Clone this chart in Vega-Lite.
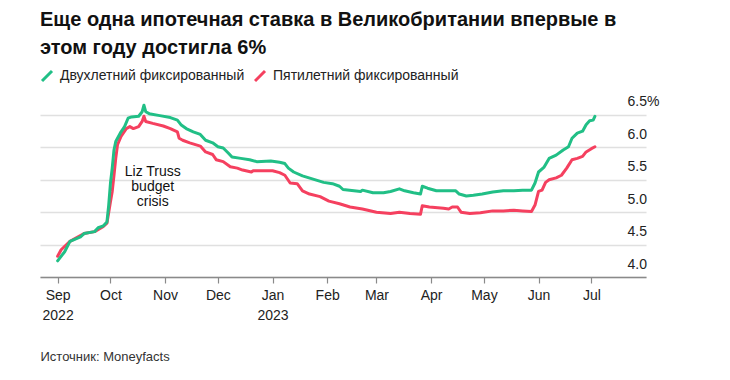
{
  "$schema": "https://vega.github.io/schema/vega-lite/v6.json",
  "width": 606,
  "height": 175,
  "autosize": {"type": "none"},
  "padding": {"left": 40, "top": 102, "right": 84, "bottom": 103},
  "background": "white",
  "title": {
    "text": ["Еще одна ипотечная ставка в Великобритании впервые в", "этом году достигла 6%"],
    "anchor": "start",
    "font": "Liberation Sans",
    "fontSize": 20,
    "fontWeight": "bold",
    "color": "#111111",
    "lineHeight": 28,
    "offset": 11
  },
  "config": {
    "view": {"stroke": null},
    "font": "Liberation Sans"
  },
  "datasets": {
    "rates": [
      {"date": "2022-09-01", "series": "Пятилетний фиксированный", "rate": 4.32},
      {"date": "2022-09-03", "series": "Пятилетний фиксированный", "rate": 4.42},
      {"date": "2022-09-08", "series": "Пятилетний фиксированный", "rate": 4.55},
      {"date": "2022-09-16", "series": "Пятилетний фиксированный", "rate": 4.67},
      {"date": "2022-09-22", "series": "Пятилетний фиксированный", "rate": 4.70},
      {"date": "2022-09-27", "series": "Пятилетний фиксированный", "rate": 4.78},
      {"date": "2022-09-29", "series": "Пятилетний фиксированный", "rate": 4.83},
      {"date": "2022-10-01", "series": "Пятилетний фиксированный", "rate": 5.16},
      {"date": "2022-10-02", "series": "Пятилетний фиксированный", "rate": 5.32},
      {"date": "2022-10-03", "series": "Пятилетний фиксированный", "rate": 5.57},
      {"date": "2022-10-04", "series": "Пятилетний фиксированный", "rate": 5.83},
      {"date": "2022-10-05", "series": "Пятилетний фиксированный", "rate": 6.04},
      {"date": "2022-10-07", "series": "Пятилетний фиксированный", "rate": 6.17},
      {"date": "2022-10-10", "series": "Пятилетний фиксированный", "rate": 6.29},
      {"date": "2022-10-12", "series": "Пятилетний фиксированный", "rate": 6.32},
      {"date": "2022-10-14", "series": "Пятилетний фиксированный", "rate": 6.29},
      {"date": "2022-10-17", "series": "Пятилетний фиксированный", "rate": 6.32},
      {"date": "2022-10-19", "series": "Пятилетний фиксированный", "rate": 6.40},
      {"date": "2022-10-20", "series": "Пятилетний фиксированный", "rate": 6.48},
      {"date": "2022-10-21", "series": "Пятилетний фиксированный", "rate": 6.40},
      {"date": "2022-10-25", "series": "Пятилетний фиксированный", "rate": 6.37},
      {"date": "2022-10-31", "series": "Пятилетний фиксированный", "rate": 6.33},
      {"date": "2022-11-04", "series": "Пятилетний фиксированный", "rate": 6.29},
      {"date": "2022-11-08", "series": "Пятилетний фиксированный", "rate": 6.24},
      {"date": "2022-11-09", "series": "Пятилетний фиксированный", "rate": 6.14},
      {"date": "2022-11-11", "series": "Пятилетний фиксированный", "rate": 6.11},
      {"date": "2022-11-15", "series": "Пятилетний фиксированный", "rate": 6.07},
      {"date": "2022-11-21", "series": "Пятилетний фиксированный", "rate": 6.02},
      {"date": "2022-11-24", "series": "Пятилетний фиксированный", "rate": 5.93},
      {"date": "2022-11-28", "series": "Пятилетний фиксированный", "rate": 5.89},
      {"date": "2022-11-30", "series": "Пятилетний фиксированный", "rate": 5.81},
      {"date": "2022-12-04", "series": "Пятилетний фиксированный", "rate": 5.78},
      {"date": "2022-12-08", "series": "Пятилетний фиксированный", "rate": 5.70},
      {"date": "2022-12-12", "series": "Пятилетний фиксированный", "rate": 5.68},
      {"date": "2022-12-15", "series": "Пятилетний фиксированный", "rate": 5.65},
      {"date": "2022-12-20", "series": "Пятилетний фиксированный", "rate": 5.62},
      {"date": "2022-12-21", "series": "Пятилетний фиксированный", "rate": 5.64},
      {"date": "2023-01-01", "series": "Пятилетний фиксированный", "rate": 5.64},
      {"date": "2023-01-05", "series": "Пятилетний фиксированный", "rate": 5.61},
      {"date": "2023-01-08", "series": "Пятилетний фиксированный", "rate": 5.57},
      {"date": "2023-01-11", "series": "Пятилетний фиксированный", "rate": 5.45},
      {"date": "2023-01-15", "series": "Пятилетний фиксированный", "rate": 5.44},
      {"date": "2023-01-18", "series": "Пятилетний фиксированный", "rate": 5.33},
      {"date": "2023-01-22", "series": "Пятилетний фиксированный", "rate": 5.28},
      {"date": "2023-01-28", "series": "Пятилетний фиксированный", "rate": 5.24},
      {"date": "2023-02-02", "series": "Пятилетний фиксированный", "rate": 5.17},
      {"date": "2023-02-08", "series": "Пятилетний фиксированный", "rate": 5.13},
      {"date": "2023-02-14", "series": "Пятилетний фиксированный", "rate": 5.08},
      {"date": "2023-02-21", "series": "Пятилетний фиксированный", "rate": 5.05},
      {"date": "2023-03-01", "series": "Пятилетний фиксированный", "rate": 5.00},
      {"date": "2023-03-09", "series": "Пятилетний фиксированный", "rate": 4.98},
      {"date": "2023-03-14", "series": "Пятилетний фиксированный", "rate": 5.00},
      {"date": "2023-03-20", "series": "Пятилетний фиксированный", "rate": 4.98},
      {"date": "2023-03-26", "series": "Пятилетний фиксированный", "rate": 4.97},
      {"date": "2023-03-27", "series": "Пятилетний фиксированный", "rate": 5.10},
      {"date": "2023-03-31", "series": "Пятилетний фиксированный", "rate": 5.08},
      {"date": "2023-04-08", "series": "Пятилетний фиксированный", "rate": 5.06},
      {"date": "2023-04-11", "series": "Пятилетний фиксированный", "rate": 5.05},
      {"date": "2023-04-13", "series": "Пятилетний фиксированный", "rate": 5.08},
      {"date": "2023-04-16", "series": "Пятилетний фиксированный", "rate": 5.08},
      {"date": "2023-04-18", "series": "Пятилетний фиксированный", "rate": 5.00},
      {"date": "2023-04-23", "series": "Пятилетний фиксированный", "rate": 4.98},
      {"date": "2023-04-29", "series": "Пятилетний фиксированный", "rate": 4.99},
      {"date": "2023-05-06", "series": "Пятилетний фиксированный", "rate": 5.02},
      {"date": "2023-05-12", "series": "Пятилетний фиксированный", "rate": 5.02},
      {"date": "2023-05-18", "series": "Пятилетний фиксированный", "rate": 5.03},
      {"date": "2023-05-23", "series": "Пятилетний фиксированный", "rate": 5.02},
      {"date": "2023-05-28", "series": "Пятилетний фиксированный", "rate": 5.01},
      {"date": "2023-05-30", "series": "Пятилетний фиксированный", "rate": 5.11},
      {"date": "2023-06-01", "series": "Пятилетний фиксированный", "rate": 5.32},
      {"date": "2023-06-03", "series": "Пятилетний фиксированный", "rate": 5.34},
      {"date": "2023-06-05", "series": "Пятилетний фиксированный", "rate": 5.46},
      {"date": "2023-06-07", "series": "Пятилетний фиксированный", "rate": 5.50},
      {"date": "2023-06-11", "series": "Пятилетний фиксированный", "rate": 5.53},
      {"date": "2023-06-14", "series": "Пятилетний фиксированный", "rate": 5.57},
      {"date": "2023-06-17", "series": "Пятилетний фиксированный", "rate": 5.68},
      {"date": "2023-06-20", "series": "Пятилетний фиксированный", "rate": 5.81},
      {"date": "2023-06-23", "series": "Пятилетний фиксированный", "rate": 5.83},
      {"date": "2023-06-26", "series": "Пятилетний фиксированный", "rate": 5.86},
      {"date": "2023-06-28", "series": "Пятилетний фиксированный", "rate": 5.93},
      {"date": "2023-07-01", "series": "Пятилетний фиксированный", "rate": 5.98},
      {"date": "2023-07-03", "series": "Пятилетний фиксированный", "rate": 6.01},
      {"date": "2022-09-01", "series": "Двухлетний фиксированный", "rate": 4.25},
      {"date": "2022-09-05", "series": "Двухлетний фиксированный", "rate": 4.39},
      {"date": "2022-09-08", "series": "Двухлетний фиксированный", "rate": 4.55},
      {"date": "2022-09-14", "series": "Двухлетний фиксированный", "rate": 4.62},
      {"date": "2022-09-16", "series": "Двухлетний фиксированный", "rate": 4.67},
      {"date": "2022-09-22", "series": "Двухлетний фиксированный", "rate": 4.70},
      {"date": "2022-09-24", "series": "Двухлетний фиксированный", "rate": 4.76},
      {"date": "2022-09-27", "series": "Двухлетний фиксированный", "rate": 4.79},
      {"date": "2022-09-29", "series": "Двухлетний фиксированный", "rate": 4.85},
      {"date": "2022-09-30", "series": "Двухлетний фиксированный", "rate": 5.11},
      {"date": "2022-10-01", "series": "Двухлетний фиксированный", "rate": 5.45},
      {"date": "2022-10-02", "series": "Двухлетний фиксированный", "rate": 5.68},
      {"date": "2022-10-03", "series": "Двухлетний фиксированный", "rate": 5.96},
      {"date": "2022-10-04", "series": "Двухлетний фиксированный", "rate": 6.09},
      {"date": "2022-10-07", "series": "Двухлетний фиксированный", "rate": 6.24},
      {"date": "2022-10-09", "series": "Двухлетний фиксированный", "rate": 6.32},
      {"date": "2022-10-11", "series": "Двухлетний фиксированный", "rate": 6.45},
      {"date": "2022-10-13", "series": "Двухлетний фиксированный", "rate": 6.47},
      {"date": "2022-10-17", "series": "Двухлетний фиксированный", "rate": 6.48},
      {"date": "2022-10-19", "series": "Двухлетний фиксированный", "rate": 6.55},
      {"date": "2022-10-20", "series": "Двухлетний фиксированный", "rate": 6.65},
      {"date": "2022-10-21", "series": "Двухлетний фиксированный", "rate": 6.55},
      {"date": "2022-10-23", "series": "Двухлетний фиксированный", "rate": 6.52},
      {"date": "2022-10-29", "series": "Двухлетний фиксированный", "rate": 6.49},
      {"date": "2022-11-04", "series": "Двухлетний фиксированный", "rate": 6.46},
      {"date": "2022-11-08", "series": "Двухлетний фиксированный", "rate": 6.42},
      {"date": "2022-11-10", "series": "Двухлетний фиксированный", "rate": 6.35},
      {"date": "2022-11-13", "series": "Двухлетний фиксированный", "rate": 6.29},
      {"date": "2022-11-17", "series": "Двухлетний фиксированный", "rate": 6.24},
      {"date": "2022-11-21", "series": "Двухлетний фиксированный", "rate": 6.20},
      {"date": "2022-11-24", "series": "Двухлетний фиксированный", "rate": 6.11},
      {"date": "2022-11-28", "series": "Двухлетний фиксированный", "rate": 6.07},
      {"date": "2022-12-01", "series": "Двухлетний фиксированный", "rate": 6.01},
      {"date": "2022-12-04", "series": "Двухлетний фиксированный", "rate": 5.99},
      {"date": "2022-12-07", "series": "Двухлетний фиксированный", "rate": 5.91},
      {"date": "2022-12-09", "series": "Двухлетний фиксированный", "rate": 5.85},
      {"date": "2022-12-14", "series": "Двухлетний фиксированный", "rate": 5.83},
      {"date": "2022-12-19", "series": "Двухлетний фиксированный", "rate": 5.81},
      {"date": "2022-12-23", "series": "Двухлетний фиксированный", "rate": 5.78},
      {"date": "2022-12-31", "series": "Двухлетний фиксированный", "rate": 5.79},
      {"date": "2023-01-05", "series": "Двухлетний фиксированный", "rate": 5.77},
      {"date": "2023-01-08", "series": "Двухлетний фиксированный", "rate": 5.75},
      {"date": "2023-01-10", "series": "Двухлетний фиксированный", "rate": 5.68},
      {"date": "2023-01-13", "series": "Двухлетний фиксированный", "rate": 5.62},
      {"date": "2023-01-18", "series": "Двухлетний фиксированный", "rate": 5.56},
      {"date": "2023-01-24", "series": "Двухлетний фиксированный", "rate": 5.51},
      {"date": "2023-01-30", "series": "Двухлетний фиксированный", "rate": 5.46},
      {"date": "2023-02-04", "series": "Двухлетний фиксированный", "rate": 5.44},
      {"date": "2023-02-08", "series": "Двухлетний фиксированный", "rate": 5.40},
      {"date": "2023-02-10", "series": "Двухлетний фиксированный", "rate": 5.35},
      {"date": "2023-02-20", "series": "Двухлетний фиксированный", "rate": 5.32},
      {"date": "2023-02-21", "series": "Двухлетний фиксированный", "rate": 5.34},
      {"date": "2023-02-27", "series": "Двухлетний фиксированный", "rate": 5.30},
      {"date": "2023-03-05", "series": "Двухлетний фиксированный", "rate": 5.30},
      {"date": "2023-03-09", "series": "Двухлетний фиксированный", "rate": 5.32},
      {"date": "2023-03-14", "series": "Двухлетний фиксированный", "rate": 5.36},
      {"date": "2023-03-17", "series": "Двухлетний фиксированный", "rate": 5.33},
      {"date": "2023-03-22", "series": "Двухлетний фиксированный", "rate": 5.30},
      {"date": "2023-03-26", "series": "Двухлетний фиксированный", "rate": 5.28},
      {"date": "2023-03-27", "series": "Двухлетний фиксированный", "rate": 5.40},
      {"date": "2023-03-30", "series": "Двухлетний фиксированный", "rate": 5.37},
      {"date": "2023-04-04", "series": "Двухлетний фиксированный", "rate": 5.33},
      {"date": "2023-04-10", "series": "Двухлетний фиксированный", "rate": 5.33},
      {"date": "2023-04-15", "series": "Двухлетний фиксированный", "rate": 5.33},
      {"date": "2023-04-17", "series": "Двухлетний фиксированный", "rate": 5.28},
      {"date": "2023-04-21", "series": "Двухлетний фиксированный", "rate": 5.25},
      {"date": "2023-04-25", "series": "Двухлетний фиксированный", "rate": 5.26},
      {"date": "2023-04-30", "series": "Двухлетний фиксированный", "rate": 5.28},
      {"date": "2023-05-06", "series": "Двухлетний фиксированный", "rate": 5.31},
      {"date": "2023-05-12", "series": "Двухлетний фиксированный", "rate": 5.33},
      {"date": "2023-05-18", "series": "Двухлетний фиксированный", "rate": 5.33},
      {"date": "2023-05-23", "series": "Двухлетний фиксированный", "rate": 5.34},
      {"date": "2023-05-28", "series": "Двухлетний фиксированный", "rate": 5.34},
      {"date": "2023-05-30", "series": "Двухлетний фиксированный", "rate": 5.45},
      {"date": "2023-06-01", "series": "Двухлетний фиксированный", "rate": 5.62},
      {"date": "2023-06-04", "series": "Двухлетний фиксированный", "rate": 5.69},
      {"date": "2023-06-07", "series": "Двухлетний фиксированный", "rate": 5.83},
      {"date": "2023-06-11", "series": "Двухлетний фиксированный", "rate": 5.88},
      {"date": "2023-06-15", "series": "Двухлетний фиксированный", "rate": 5.96},
      {"date": "2023-06-18", "series": "Двухлетний фиксированный", "rate": 6.01},
      {"date": "2023-06-20", "series": "Двухлетний фиксированный", "rate": 6.14},
      {"date": "2023-06-23", "series": "Двухлетний фиксированный", "rate": 6.22},
      {"date": "2023-06-26", "series": "Двухлетний фиксированный", "rate": 6.25},
      {"date": "2023-06-28", "series": "Двухлетний фиксированный", "rate": 6.35},
      {"date": "2023-06-30", "series": "Двухлетний фиксированный", "rate": 6.41},
      {"date": "2023-07-02", "series": "Двухлетний фиксированный", "rate": 6.42},
      {"date": "2023-07-03", "series": "Двухлетний фиксированный", "rate": 6.48}
    ],
    "notes": [
      {"date": "2022-10-25", "rate": 5.625, "note": "Liz Truss\nbudget\ncrisis"}
    ]
  },
  "encoding": {
    "x": {
      "field": "date",
      "type": "temporal",
      "scale": {
        "type": "utc",
        "domain": [
          {"year": 2022, "month": 8, "date": 22, "utc": true},
          {"year": 2023, "month": 8, "date": 1, "utc": true}
        ]
      },
      "axis": {
        "values": [
          {"year": 2022, "month": 9, "date": 1, "utc": true},
          {"year": 2022, "month": 10, "date": 1, "utc": true},
          {"year": 2022, "month": 11, "date": 1, "utc": true},
          {"year": 2022, "month": 12, "date": 1, "utc": true},
          {"year": 2023, "month": 1, "date": 1, "utc": true},
          {"year": 2023, "month": 2, "date": 1, "utc": true},
          {"year": 2023, "month": 3, "date": 1, "utc": true},
          {"year": 2023, "month": 4, "date": 1, "utc": true},
          {"year": 2023, "month": 5, "date": 1, "utc": true},
          {"year": 2023, "month": 6, "date": 1, "utc": true},
          {"year": 2023, "month": 7, "date": 1, "utc": true}
        ],
        "labelExpr": "[utcFormat(datum.value, '%b'), (utcmonth(datum.value) == 0 || (utcmonth(datum.value) == 8 && utcyear(datum.value) == 2022)) ? utcFormat(datum.value, '%Y') : '']",
        "grid": false,
        "domainColor": "#8a8a8a",
        "domainWidth": 1.5,
        "tickColor": "#8a8a8a",
        "tickSize": 6,
        "tickWidth": 1.2,
        "labelFont": "Liberation Sans",
        "labelFontSize": 14,
        "labelColor": "#222222",
        "labelPadding": 5,
        "labelLineHeight": 20,
        "labelFlush": false,
        "labelOverlap": false,
        "title": "Источник: Moneyfacts",
        "titleFont": "Liberation Sans",
        "titleFontSize": 13,
        "titleFontWeight": "normal",
        "titleColor": "#333333",
        "titleAnchor": "start",
        "titleAlign": "left",
        "titleBaseline": "middle",
        "titleX": 0,
        "titleY": 79
      }
    },
    "y": {
      "field": "rate",
      "type": "quantitative",
      "scale": {"domain": [4.0, 6.7], "zero": false, "nice": false},
      "axis": {
        "orient": "right",
        "values": [4.0, 4.5, 5.0, 5.5, 6.0, 6.5],
        "labelExpr": "datum.value == 6.5 ? '6.5%' : format(datum.value, '.1f')",
        "labelOverlap": false,
        "labelFlush": false,
        "domain": false,
        "ticks": false,
        "tickSize": 0,
        "grid": true,
        "gridColor": "#e0e0e0",
        "gridWidth": 1.5,
        "labelAlign": "left",
        "labelBaseline": "middle",
        "labelPadding": -19,
        "labelOffset": -13,
        "labelFont": "Liberation Sans",
        "labelFontSize": 14,
        "labelColor": "#222222",
        "title": null
      }
    }
  },
  "layer": [
    {
      "data": {"name": "rates"},
      "transform": [{"filter": "datum.series == 'Пятилетний фиксированный'"}],
      "mark": {"type": "line", "strokeWidth": 3, "strokeJoin": "round", "strokeCap": "round"},
      "encoding": {
        "color": {
          "field": "series",
          "type": "nominal",
          "scale": {
            "domain": ["Двухлетний фиксированный", "Пятилетний фиксированный"],
            "range": ["#21bf86", "#f5405f"]
          },
          "legend": {
            "orient": "none",
            "legendX": 0,
            "legendY": -33,
            "direction": "horizontal",
            "title": null,
            "symbolType": "M-1,1L1,-1",
            "symbolSize": 100,
            "symbolStrokeWidth": 3,
            "labelFont": "Liberation Sans",
            "labelFontSize": 14,
            "labelColor": "#222222",
            "labelLimit": 0,
            "labelOffset": 6,
            "columnPadding": 4
          }
        }
      }
    },
    {
      "data": {"name": "rates"},
      "transform": [{"filter": "datum.series == 'Двухлетний фиксированный'"}],
      "mark": {"type": "line", "strokeWidth": 3, "strokeJoin": "round", "strokeCap": "round"},
      "encoding": {
        "color": {
          "field": "series",
          "type": "nominal"
        }
      }
    },
    {
      "data": {"name": "notes"},
      "mark": {"type": "text", "align": "center", "baseline": "middle", "lineBreak": "\n", "lineHeight": 15, "font": "Liberation Sans", "fontSize": 14, "color": "#111111"},
      "encoding": {
        "text": {"field": "note"}
      }
    }
  ]
}
